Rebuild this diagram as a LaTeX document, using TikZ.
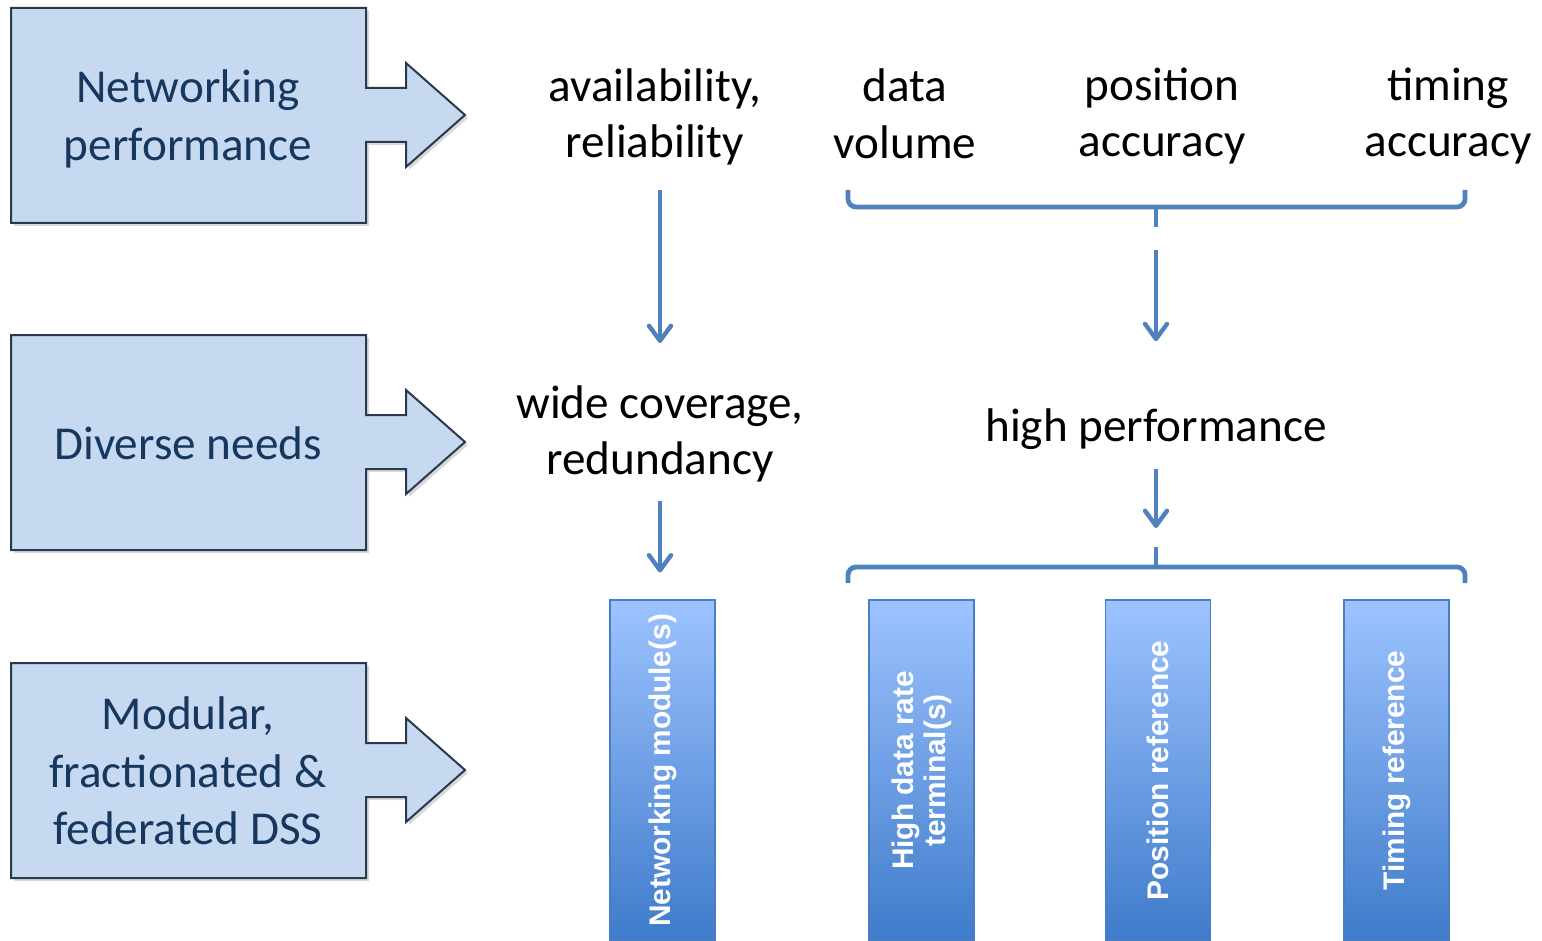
\documentclass[tikz,border=0pt]{standalone}
\usepackage{fontspec}
\setmainfont{Carlito}
\newfontfamily\barfont{Liberation Sans}
\usetikzlibrary{arrows.meta, positioning, shadows}
\definecolor{boxfill}{HTML}{C6D9F1}
\definecolor{boxline}{HTML}{2A3A4C}
\definecolor{boxtext}{HTML}{17375E}
\definecolor{flowblue}{HTML}{4F81BD}
\definecolor{bartop}{HTML}{9DC3FF}
\definecolor{barbottom}{HTML}{3E7BCA}
\definecolor{barline}{HTML}{4A7EC0}

\begin{document}
\begin{tikzpicture}[x=0.5pt, y=-0.5pt]
    \tikzstyle{callout}=[draw=boxline, fill=boxfill, line width=1pt, drop shadow={opacity=0.3, shadow xshift=1.5pt, shadow yshift=-1.5pt}]
    \tikzstyle{boxlabel}=[align=center, text=boxtext, inner sep=0pt, font=\fontsize{23.6}{28.8}\selectfont]
    \tikzstyle{need}=[align=center, inner sep=0pt, font=\fontsize{23.6}{28.4}\selectfont]
    \tikzstyle{flow}=[draw=flowblue, line width=2.2pt, -{Straight Barb[length=7.5pt, width=11pt, round]}]
    \tikzstyle{brace}=[draw=flowblue, line width=2.4pt, rounded corners=4pt]
    \tikzstyle{module}=[rotate=90, minimum width=170.5pt, minimum height=52.5pt, inner sep=0pt, draw=barline, line width=0.6pt, top color=bartop, bottom color=barbottom, text=white, align=center, font=\barfont\bfseries\fontsize{14.9}{16}\selectfont]
    \useasboundingbox (0,0) rectangle (1542,941);
    \foreach \yc in {115, 442, 770} {
      \draw[callout] (11,\yc-107) -- (366,\yc-107) -- (366,\yc-27) -- (406,\yc-27) -- (406,\yc-52) -- (465,\yc) -- (406,\yc+52) -- (406,\yc+27) -- (366,\yc+27) -- (366,\yc+108) -- (11,\yc+108) -- cycle;
    }
    \node[boxlabel] (perf) at (188,119) {Networking\\performance};
    \node[boxlabel] (needs) at (188,443) {Diverse needs};
    \node[boxlabel] (dss) at (188,771) {Modular,\\fractionated \&\\federated DSS};
    \node[need] (avail) at (655,117) {availability,\\reliability};
    \node[need] (volume) at (905,114) {data\\volume};
    \node[need] (position) at (1162,116) {position\\accuracy};
    \node[need] (timing) at (1448,116) {timing\\accuracy};
    \node[need] (coverage) at (660,434) {wide coverage,\\redundancy};
    \node[need] (perform) at (1156,429) {high performance};
    \node[module] (netmod) at (662.5,770.5) {Networking module(s)};
    \node[module] (hdrt) at (921.5,770.5) {High data rate\\terminal(s)};
    \node[module] (posref) at (1158,770.5) {Position reference};
    \node[module] (timref) at (1396.5,770.5) {Timing reference};
    \coordinate (topbrace) at (1156,227);
    \coordinate (botbrace) at (1156,547);
    \draw[brace] (848,190) -- (848,207) -- (1465,207) -- (1465,190);
    \draw[brace] (1156,207) -- (topbrace);
    \draw[brace] (848,583) -- (848,567) -- (1465,567) -- (1465,583);
    \draw[brace] (1156,567) -- (botbrace);
    \draw[flow, shorten >=21pt] (coverage.north |- 0,190) -- (coverage.north);
    \draw[flow, shorten <=11.5pt, shorten >=33.5pt] (topbrace) -- (perform.north);
    \draw[flow, shorten <=9pt, shorten >=13.5pt] (coverage.south) -- (coverage.south |- netmod.east);
    \draw[flow, shorten <=9.5pt, shorten >=9.5pt] (perform.south) -- (botbrace);
\end{tikzpicture}
\end{document}
